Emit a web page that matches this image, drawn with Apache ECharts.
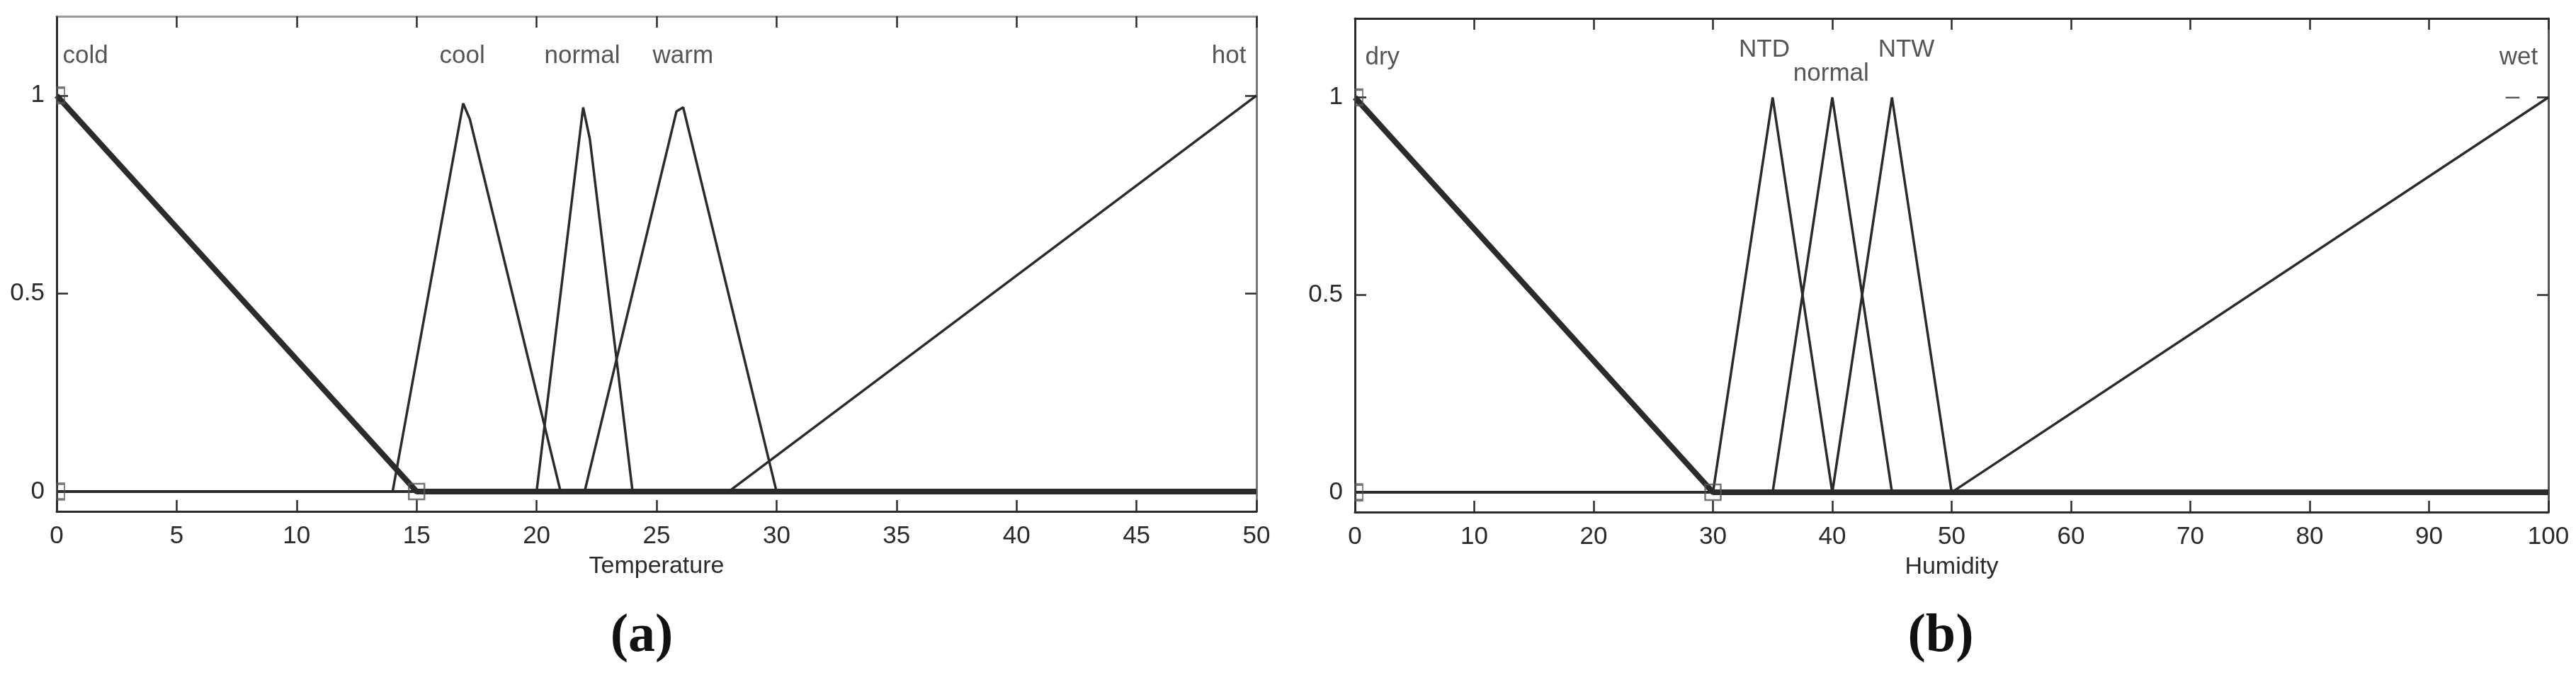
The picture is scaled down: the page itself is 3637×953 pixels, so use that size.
<!DOCTYPE html>
<html>
<head>
<meta charset="utf-8">
<script src="https://cdn.jsdelivr.net/npm/echarts@6/dist/echarts.min.js"></script>
<style>
html, body { margin: 0; padding: 0; background: #fff; }
#main { width: 3637px; height: 953px; }
</style>
</head>
<body>
<div id="main"></div>
<script>
// (a) temperature membership functions
var cold    = [[0, 1], [15, 0], [50, 0]];
var cool    = [[0, 0], [14, 0], [16.94, 0.98], [17.22, 0.94], [21, 0], [50, 0]];
var normalT = [[0, 0], [20, 0], [21.94, 0.97], [22.22, 0.89], [24, 0], [50, 0]];
var warm    = [[0, 0], [22, 0], [25.83, 0.96], [26.11, 0.97], [30, 0], [50, 0]];
var hot     = [[0, 0], [28, 0], [50, 1]];
var coldHandles = [[0, 1], [0, 0], [15, 0]];
var tempLabels = [['cold', 1.2, 1.1], ['cool', 16.9, 1.1], ['normal', 21.9, 1.1], ['warm', 26.1, 1.1], ['hot', 48.85, 1.1]];

// (b) humidity membership functions
var dry     = [[0, 1], [30, 0], [100, 0]];
var ntd     = [[0, 0], [30, 0], [35, 1], [40, 0], [100, 0]];
var normalH = [[0, 0], [35, 0], [40, 1], [45, 0], [100, 0]];
var ntw     = [[0, 0], [40, 0], [45, 1], [50, 0], [100, 0]];
var wet     = [[0, 0], [50, 0], [100, 1]];
var dryHandles = [[0, 1], [0, 0], [30, 0]];
var humLabels = [['dry', 2.3, 1.1], ['NTD', 34.3, 1.12], ['normal', 39.9, 1.06], ['NTW', 46.2, 1.12], ['wet', 97.5, 1.1], ['\u2013', 97.0, 1.0]];

var yTicks = [0, 0.5, 1];
var FONT = 'Liberation Sans, Arial, sans-serif';
var INK = '#2b2b2b';

function xAx(grid, max, step, pos, name, lineColor) {
  var bottom = pos === 'bottom';
  return {
    type: 'value', gridIndex: grid, position: pos, min: 0, max: max, interval: step,
    axisLine: { show: true, onZero: false, lineStyle: { color: lineColor, width: 3 } },
    axisTick: { show: true, inside: true, length: 16, lineStyle: { color: INK, width: 2.5 } },
    axisLabel: { show: bottom, margin: 18, fontSize: 35, color: INK, fontFamily: FONT },
    splitLine: { show: false },
    name: bottom ? name : '', nameLocation: 'middle', nameGap: 61,
    nameTextStyle: { fontSize: 34, color: INK, fontFamily: FONT }
  };
}

function yAx(grid, pos, lineColor) {
  var left = pos === 'left';
  return {
    type: 'value', gridIndex: grid, position: pos, min: -0.05, max: 1.2,
    axisLine: { show: true, onZero: false, lineStyle: { color: lineColor, width: 3 } },
    axisTick: { show: true, inside: true, length: 16, customValues: yTicks, lineStyle: { color: INK, width: 2.5 } },
    axisLabel: { show: left, margin: 17, fontSize: 35, color: INK, fontFamily: FONT, customValues: yTicks },
    splitLine: { show: false }
  };
}

function mf(data, xi, yi, w) {
  return {
    type: 'line', data: data, xAxisIndex: xi, yAxisIndex: yi,
    showSymbol: false, symbol: 'none', silent: true,
    lineStyle: { color: INK, width: w }
  };
}

function handles(data, xi, yi) {
  return {
    type: 'scatter', xAxisIndex: xi, yAxisIndex: yi, silent: true, z: 5,
    data: data.map(function (p) {
      // points sitting on the left frame are clipped to half a square
      return p[0] === 0 ? { value: p, symbolSize: [11, 22], symbolOffset: [5.5, 0] } : { value: p };
    }),
    symbol: 'rect', symbolSize: 22,
    itemStyle: { color: 'rgba(255,255,255,0)', borderColor: '#555', borderWidth: 2.5 }
  };
}

function labels(list, xi, yi) {
  return {
    type: 'scatter', xAxisIndex: xi, yAxisIndex: yi, silent: true,
    symbolSize: 1, itemStyle: { color: 'rgba(0,0,0,0)' },
    data: list.map(function (l) { return { name: l[0], value: [l[1], l[2]] }; }),
    label: { show: true, position: 'inside', formatter: '{b}', fontSize: 35, color: INK, fontFamily: FONT }
  };
}

var chart = echarts.init(document.getElementById('main'));
chart.setOption({
  animation: false,
  backgroundColor: '#fff',
  grid: [
    { left: 80, top: 23, width: 1694, height: 699 },
    { left: 1913, top: 26, width: 1685, height: 697 }
  ],
  xAxis: [
    xAx(0, 50, 5, 'bottom', 'Temperature', INK),
    xAx(0, 50, 5, 'top', '', '#999'),
    xAx(1, 100, 10, 'bottom', 'Humidity', INK),
    xAx(1, 100, 10, 'top', '', INK)
  ],
  yAxis: [
    yAx(0, 'left', INK),
    yAx(0, 'right', '#777'),
    yAx(1, 'left', INK),
    yAx(1, 'right', '#555')
  ],
  series: [
    mf(cold, 0, 0, 8), mf(cool, 0, 0, 3.5), mf(normalT, 0, 0, 3.5), mf(warm, 0, 0, 3.5), mf(hot, 0, 0, 3.5),
    handles(coldHandles, 0, 0), labels(tempLabels, 0, 0),
    mf(dry, 2, 2, 8), mf(ntd, 2, 2, 3.5), mf(normalH, 2, 2, 3.5), mf(ntw, 2, 2, 3.5), mf(wet, 2, 2, 3.5),
    handles(dryHandles, 2, 2), labels(humLabels, 2, 2)
  ],
  graphic: [
    { type: 'text', x: 906, y: 899, style: { text: '(a)', font: 'bold 76px "Liberation Serif", serif', fill: '#111', textAlign: 'center', textVerticalAlign: 'middle' } },
    { type: 'text', x: 2740, y: 899, style: { text: '(b)', font: 'bold 76px "Liberation Serif", serif', fill: '#111', textAlign: 'center', textVerticalAlign: 'middle' } }
  ]
});
</script>
</body>
</html>
